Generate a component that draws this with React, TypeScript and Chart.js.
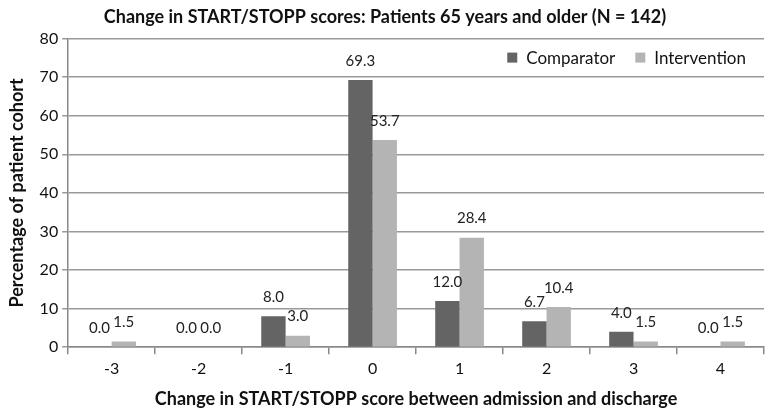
import React, { useEffect, useRef } from "react";
import { Chart, registerables } from "chart.js";

Chart.register(...registerables);

const categories = ["-3", "-2", "-1", "0", "1", "2", "3", "4"];
const comparator = [0.0, 0.0, 8.0, 69.3, 12.0, 6.7, 4.0, 0.0];
const intervention = [1.5, 0.0, 3.0, 53.7, 28.4, 10.4, 1.5, 1.5];
const seriesNames = ["Comparator", "Intervention"];
const seriesColors = ["#646464", "#b4b4b4"];
const titleText = "Change in START/STOPP scores: Patients 65 years and older (N = 142)";
const xTitle = "Change in START/STOPP score between admission and discharge";
const yTitle = "Percentage of patient cohort";

const FONT = "Lato, 'Open Sans', sans-serif";

const labelPlugin = {
  id: "valueLabels",
  afterDatasetsDraw(chart: any) {
    const ctx = chart.ctx;
    ctx.save();
    ctx.font = `15px ${FONT}`;
    ctx.fillStyle = "#222";
    ctx.textAlign = "center";
    ctx.textBaseline = "middle";
    chart.data.datasets.forEach((ds: any, i: number) => {
      const meta = chart.getDatasetMeta(i);
      meta.data.forEach((el: any, j: number) => {
        const v = ds.data[j];
        ctx.fillText(Number(v).toFixed(1), el.x, el.y - 19);
      });
    });
    ctx.restore();
  },
};

const legendPlugin = {
  id: "innerLegend",
  afterDraw(chart: any) {
    const ctx = chart.ctx;
    const area = chart.chartArea;
    ctx.save();
    ctx.font = `17px ${FONT}`;
    ctx.textBaseline = "middle";
    ctx.textAlign = "left";
    const box = 10;
    const gapBoxText = 9;
    const gapItems = 20;
    const widths = chart.data.datasets.map((d: any) => ctx.measureText(d.label).width);
    let total = 0;
    widths.forEach((w: number, i: number) => {
      total += box + gapBoxText + w + (i < widths.length - 1 ? gapItems : 0);
    });
    let x = area.right - 18 - total;
    const y = area.top + 19;
    chart.data.datasets.forEach((d: any, i: number) => {
      ctx.fillStyle = d.backgroundColor;
      ctx.fillRect(x, y - box / 2, box, box);
      x += box + gapBoxText;
      ctx.fillStyle = "#111";
      ctx.fillText(d.label, x, y + 1);
      x += widths[i] + gapItems;
    });
    ctx.restore();
  },
};

export default function App() {
  const ref = useRef<HTMLCanvasElement>(null);
  useEffect(() => {
    if (!ref.current) return;
    const chart = new Chart(ref.current, {
      type: "bar",
      data: {
        labels: categories,
        datasets: [
          {
            label: seriesNames[0],
            data: comparator,
            backgroundColor: seriesColors[0],
            categoryPercentage: 0.56,
            barPercentage: 1,
          },
          {
            label: seriesNames[1],
            data: intervention,
            backgroundColor: seriesColors[1],
            categoryPercentage: 0.56,
            barPercentage: 1,
          },
        ],
      },
      options: {
        animation: false,
        responsive: true,
        maintainAspectRatio: false,
        layout: { padding: { left: 6, right: 3, top: 0, bottom: 4 } },
        plugins: {
          title: {
            display: true,
            text: titleText,
            color: "#111",
            font: { family: FONT, size: 18, weight: "bold" },
            padding: { top: 6, bottom: 11 },
          },
          legend: { display: false },
          tooltip: { enabled: false },
        },
        scales: {
          x: {
            grid: {
              display: true,
              drawOnChartArea: false,
              drawTicks: true,
              tickLength: 7,
              color: "#888",
              lineWidth: 1.5,
              offset: true,
            },
            border: { color: "#888", width: 1.5 },
            ticks: {
              color: "#111",
              font: { family: FONT, size: 16 },
              padding: 5,
            },
            title: {
              display: true,
              text: xTitle,
              color: "#111",
              font: { family: FONT, size: 18, weight: "bold" },
              padding: { top: 5, bottom: 0 },
            },
          },
          y: {
            min: 0,
            max: 80,
            ticks: {
              stepSize: 10,
              color: "#111",
              font: { family: FONT, size: 16 },
              padding: 4,
            },
            grid: {
              color: "#999",
              lineWidth: 1.5,
              tickLength: 6,
            },
            border: { color: "#888", width: 1.5 },
            title: {
              display: true,
              text: yTitle,
              color: "#111",
              font: { family: FONT, size: 18, weight: "bold" },
              padding: { top: 0, bottom: 8 },
            },
          },
        },
      },
      plugins: [labelPlugin, legendPlugin],
    });
    return () => chart.destroy();
  }, []);
  return (
    <div style={{ position: "fixed", left: 0, top: 0, width: 767, height: 414, background: "#fff" }}>
      <canvas ref={ref} />
    </div>
  );
}
